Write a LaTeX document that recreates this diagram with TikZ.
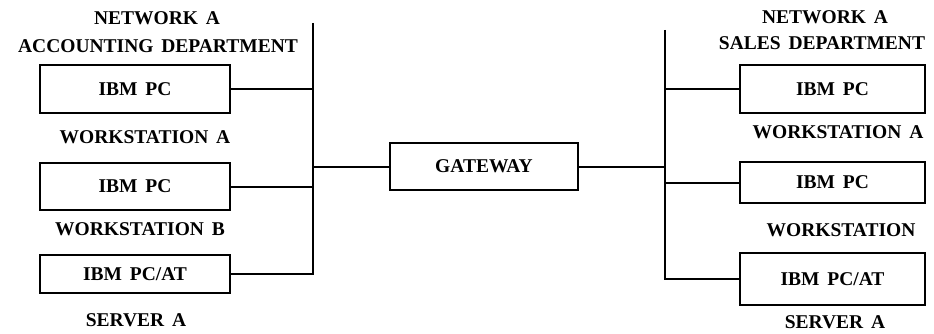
\documentclass[tikz,border=0pt]{standalone}
\usepackage{fontspec}
\setmainfont{Liberation Serif}[WordSpace=1.6]
\begin{document}
\begin{tikzpicture}[x=1pt,y=-1pt,
  box/.style={draw, line width=2.4pt, inner sep=0pt, outer sep=0pt, font=\fontsize{19.5}{21}\selectfont\bfseries},
  lbl/.style={inner sep=0pt, font=\fontsize{19.5}{21}\selectfont\bfseries},
  wire/.style={line width=2pt}]
\useasboundingbox (0,0) rectangle (934,334);
% left network
\node[box, minimum width=190, minimum height=48] (l1) at (135,89) {IBM PC};
\node[box, minimum width=190, minimum height=47] (l2) at (135,186.5) {IBM PC};
\node[box, minimum width=190, minimum height=38] (l3) at (135,274) {IBM PC/AT};
\node[lbl] (lt1) at (157,18) {NETWORK A};
\node[lbl] (lt2) at (158,46) {ACCOUNTING DEPARTMENT};
\node[lbl] (lw1) at (145,137) {WORKSTATION A};
\node[lbl] (lw2) at (140,229) {WORKSTATION B};
\node[lbl] (ls) at (136,320) {SERVER A};
\coordinate (lbt) at (313,23);
\coordinate (lbb) at (313,274);
% gateway
\node[box, minimum width=188, minimum height=47] (gw) at (484,166.5) {GATEWAY};
% right network
\node[box, minimum width=185, minimum height=48] (r1) at (832.5,89) {IBM PC};
\node[box, minimum width=185, minimum height=41] (r2) at (832.5,182.5) {IBM PC};
\node[box, minimum width=185, minimum height=52] (r3) at (832.5,279) {IBM PC/AT};
\node[lbl] (rt1) at (825,17) {NETWORK A};
\node[lbl] (rt2) at (822,43) {SALES DEPARTMENT};
\node[lbl] (rw1) at (838,132) {WORKSTATION A};
\node[lbl] (rw2) at (841,230) {WORKSTATION};
\node[lbl] (rs) at (835,322) {SERVER A};
\coordinate (rbt) at (665,30);
\coordinate (rbb) at (665,279);
% buses
\draw[wire] (lbt) -- (lbb) -- (l3.east);
\draw[wire] (l1.east) -- (l1.east -| lbt);
\draw[wire] (l2.east) -- (l2.east -| lbt);
\draw[wire] (gw.west) -- (gw.west -| lbt);
\draw[wire] (rbt) -- (rbb) -- (r3.west);
\draw[wire] (r1.west) -- (r1.west -| rbt);
\draw[wire] (r2.west) -- (r2.west -| rbt);
\draw[wire] (gw.east) -- (gw.east -| rbt);
\end{tikzpicture}
\end{document}
